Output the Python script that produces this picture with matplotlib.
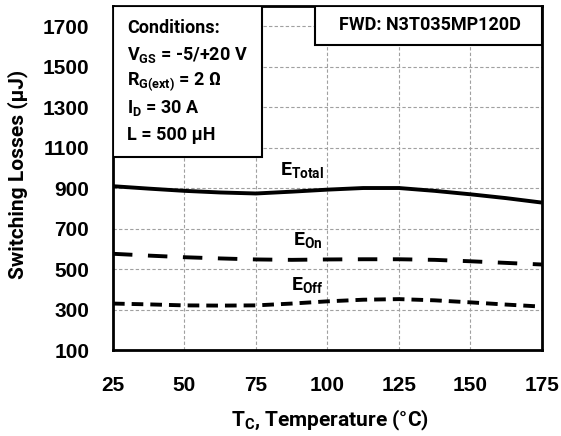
import matplotlib
matplotlib.use("Agg")
import matplotlib.pyplot as plt
import matplotlib.patches as mpatches

# ── Data ─────────────────────────────────────────────────────────────────────
temps = [25, 37.5, 50, 62.5, 75, 87.5, 100, 112.5, 125, 137.5, 150, 162.5, 175]
e_total = [910, 898, 887, 879, 874, 883, 893, 901, 901, 887, 870, 851, 829]
e_on = [576, 567, 559, 553, 548, 546, 548, 549, 549, 546, 539, 531, 523]
e_off = [330, 326, 321, 320, 321, 330, 341, 349, 352, 346, 336, 325, 315]
x_ticks = [25, 50, 75, 100, 125, 150, 175]
y_ticks = [100, 300, 500, 700, 900, 1100, 1300, 1500, 1700]

NARROW = "Roboto"
TICKFONT = "Liberation Sans"

plt.rcParams["mathtext.fontset"] = "custom"
plt.rcParams["mathtext.bf"] = f"{NARROW}:bold"
plt.rcParams["mathtext.rm"] = f"{NARROW}:bold"

fig = plt.figure(figsize=(5.61, 4.36), dpi=100)
ax = fig.add_axes([0.2014, 0.197, 0.7646, 0.789])

LW = 2.8
ax.plot(temps, e_total, color="black", lw=LW, solid_capstyle="butt", zorder=3)
ax.plot(temps, e_on, color="black", lw=LW, dashes=(5, 4), zorder=3)
ax.plot(temps, e_off, color="black", lw=LW, dashes=(3.0, 1.8), zorder=3)

ax.set_xlim(25, 175)
ax.set_ylim(100, 1800)
ax.set_xticks(x_ticks)
ax.set_yticks(y_ticks)
ax.grid(True, linestyle=(0, (3, 2)), linewidth=0.8, color="#a0a0a0", zorder=1)
ax.tick_params(length=0, labelsize=15)
ax.tick_params(axis="x", pad=19)
ax.tick_params(axis="y", pad=17)
for lab in ax.get_xticklabels() + ax.get_yticklabels():
    lab.set_fontfamily(TICKFONT)
    lab.set_fontweight("bold")
for spine in ax.spines.values():
    spine.set_linewidth(2)

# ── Curve labels ─────────────────────────────────────────────────────────────
lbl = dict(fontsize=14, fontweight="bold", family=NARROW, ha="center", va="center", zorder=4)
ax.text(91, 985, r"E$_{\mathbf{Total}}$", **lbl)
ax.text(93, 640, r"E$_{\mathbf{On}}$", **lbl)
ax.text(93, 420, r"E$_{\mathbf{Off}}$", **lbl)

# ── Boxes ────────────────────────────────────────────────────────────────────
ax.add_patch(mpatches.Rectangle((0, 0.561), 0.347, 0.439, transform=ax.transAxes,
                                facecolor="white", edgecolor="black", lw=1.5, zorder=5))
ax.add_patch(mpatches.Rectangle((0.471, 0.887), 0.529, 0.113, transform=ax.transAxes,
                                facecolor="white", edgecolor="black", lw=1.5, zorder=5))

cond = dict(fontsize=13, fontweight="bold", family=NARROW, ha="left", va="center",
            transform=ax.transAxes, zorder=6)
ax.text(0.033, 0.936, "Conditions:", **cond)
ax.text(0.033, 0.858, r"V$_{\mathbf{GS}}$ = -5/+20 V", **cond)
ax.text(0.033, 0.779, r"R$_{\mathbf{G(ext)}}$ = 2 Ω", **cond)
ax.text(0.033, 0.703, r"I$_{\mathbf{D}}$ = 30 A", **cond)
ax.text(0.033, 0.625, "L = 500 μH", **cond)
ax.text(0.739, 0.945, "FWD: N3T035MP120D", fontsize=13, fontweight="bold", family=NARROW,
        ha="center", va="center", transform=ax.transAxes, zorder=6)

# ── Axis titles ──────────────────────────────────────────────────────────────
fig.text(0.032, 0.6, "Switching Losses (μJ)", rotation=90, fontsize=15, fontweight="bold",
         family=NARROW, ha="center", va="center")
fig.text(0.588, 0.035, r"T$_{\mathbf{C}}$, Temperature (°C)", fontsize=15, fontweight="bold",
         family=NARROW, ha="center", va="center")

fig.savefig("out.png", dpi=100)
